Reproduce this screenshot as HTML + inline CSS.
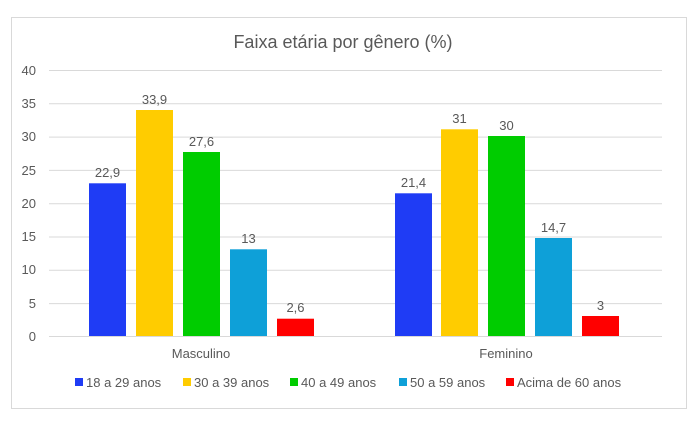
<!DOCTYPE html>
<html><head><style>
body{margin:0;background:#fff;}
svg text{font-family:"Liberation Sans",sans-serif;fill:#595959;}
</style></head><body>
<svg width="698" height="420" xmlns="http://www.w3.org/2000/svg">
<rect x="11.5" y="17.5" width="675" height="391" fill="#fff" stroke="#d9d9d9"/>
<text x="343" y="48" font-size="18" text-anchor="middle">Faixa etária por gênero (%)</text>
<g stroke="#d9d9d9" stroke-width="1">
<line x1="49" x2="662" y1="70.5" y2="70.5"/>
<line x1="49" x2="662" y1="103.8" y2="103.8"/>
<line x1="49" x2="662" y1="137.1" y2="137.1"/>
<line x1="49" x2="662" y1="170.4" y2="170.4"/>
<line x1="49" x2="662" y1="203.7" y2="203.7"/>
<line x1="49" x2="662" y1="237" y2="237"/>
<line x1="49" x2="662" y1="270.3" y2="270.3"/>
<line x1="49" x2="662" y1="303.6" y2="303.6"/>
<line x1="49" x2="662" y1="336.5" y2="336.5"/>
</g>
<g font-size="13" text-anchor="end">
<text x="36" y="75">40</text><text x="36" y="108">35</text><text x="36" y="141">30</text>
<text x="36" y="175">25</text><text x="36" y="208">20</text><text x="36" y="241">15</text>
<text x="36" y="274">10</text><text x="36" y="308">5</text><text x="36" y="341">0</text>
</g>
<g>
<rect x="89" y="183.3" width="37" height="152.7" fill="#1f3cf5"/>
<rect x="136" y="110" width="37" height="226" fill="#ffcc00"/>
<rect x="183" y="152" width="37" height="184" fill="#00cc00"/>
<rect x="230" y="249.3" width="37" height="86.7" fill="#0ea0d8"/>
<rect x="277" y="318.7" width="37" height="17.3" fill="#ff0000"/>
<rect x="395" y="193.3" width="37" height="142.7" fill="#1f3cf5"/>
<rect x="441" y="129.3" width="37" height="206.7" fill="#ffcc00"/>
<rect x="488" y="136" width="37" height="200" fill="#00cc00"/>
<rect x="535" y="238" width="37" height="98" fill="#0ea0d8"/>
<rect x="582" y="316" width="37" height="20" fill="#ff0000"/>
</g>
<g font-size="13" text-anchor="middle">
<text x="107.5" y="177">22,9</text><text x="154.5" y="104">33,9</text><text x="201.5" y="146">27,6</text>
<text x="248.5" y="243">13</text><text x="295.5" y="312">2,6</text>
<text x="413.5" y="187">21,4</text><text x="459.5" y="123">31</text><text x="506.5" y="130">30</text>
<text x="553.5" y="232">14,7</text><text x="600.5" y="310">3</text>
<text x="201" y="358">Masculino</text><text x="506" y="358">Feminino</text>
</g>
<g font-size="13">
<rect x="75" y="378" width="8" height="8" fill="#1f3cf5"/><text x="86" y="387">18 a 29 anos</text>
<rect x="183" y="378" width="8" height="8" fill="#ffcc00"/><text x="194" y="387">30 a 39 anos</text>
<rect x="290" y="378" width="8" height="8" fill="#00cc00"/><text x="301" y="387">40 a 49 anos</text>
<rect x="399" y="378" width="8" height="8" fill="#0ea0d8"/><text x="410" y="387">50 a 59 anos</text>
<rect x="506" y="378" width="8" height="8" fill="#ff0000"/><text x="517" y="387">Acima de 60 anos</text>
</g>
</svg>
</body></html>
